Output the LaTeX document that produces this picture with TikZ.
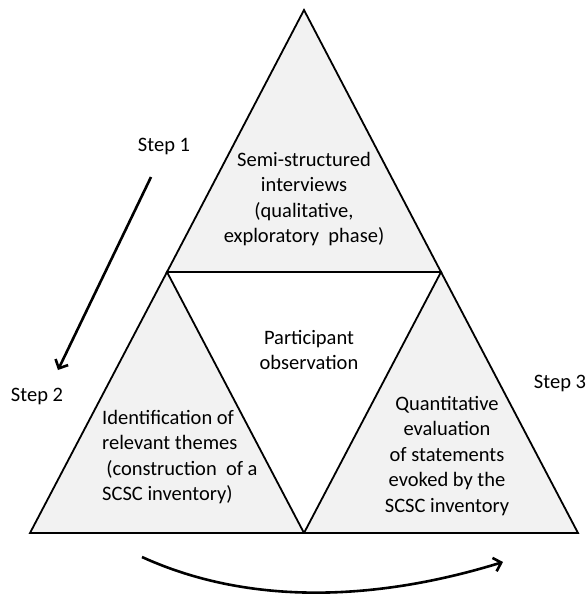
\documentclass[tikz,border=0pt]{standalone}
\usepackage{fontspec}
\setmainfont{Carlito}
\usetikzlibrary{arrows.meta}
\definecolor{trifill}{HTML}{F2F2F2}
\tikzset{
  tri/.style={draw=black, line width=1.8pt, fill=trifill, line join=miter},
  lbl/.style={font=\fontsize{20.5}{25.5}\selectfont, inner sep=0pt, text=black},
  steparrow/.style={line width=2.6pt, -{Straight Barb[length=7pt,width=14pt,line width=2.6pt]}}
}
\begin{document}
\begin{tikzpicture}[x=1pt,y=-1pt]
\useasboundingbox (0,0) rectangle (588,595);
% vertices
\coordinate (apex) at (304,10);
\coordinate (ml) at (167,272);
\coordinate (mr) at (441,272);
\coordinate (bl) at (30,533);
\coordinate (bm) at (304,533);
\coordinate (br) at (578,533);
% triangles
\draw[tri] (apex) -- (mr) -- (ml) -- cycle;
\draw[tri] (ml) -- (bm) -- (bl) -- cycle;
\draw[tri] (mr) -- (br) -- (bm) -- cycle;
% texts
\node[lbl, align=center] (top) at (304,199) {Semi-structured\\interviews\\(qualitative,\\exploratory\ \ phase)};
\node[lbl, align=center] (mid) at (309,350) {Participant\\observation};
\node[lbl, align=left, anchor=west] (left) at (102,457) {Identification of\\relevant themes\\\hspace{0.2em}(construction\ \ of a\\SCSC inventory)};
\node[lbl, align=center] (right) at (447,456) {Quantitative\\evaluation\\of statements\\evoked by the\\SCSC inventory};
\node[lbl] (s1) at (164,146) {Step 1};
\node[lbl] (s2) at (37,396) {Step 2};
\node[lbl] (s3) at (560,383) {Step 3};
% arrows
\coordinate (a1s) at (151,177);
\coordinate (a1e) at (58,370);
\draw[steparrow] (a1s) -- (a1e);
\coordinate (a2s) at (142,557);
\coordinate (a2e) at (503,562);
\draw[steparrow] (a2s) .. controls (245,604) and (370,603) .. (a2e);
\end{tikzpicture}
\end{document}
